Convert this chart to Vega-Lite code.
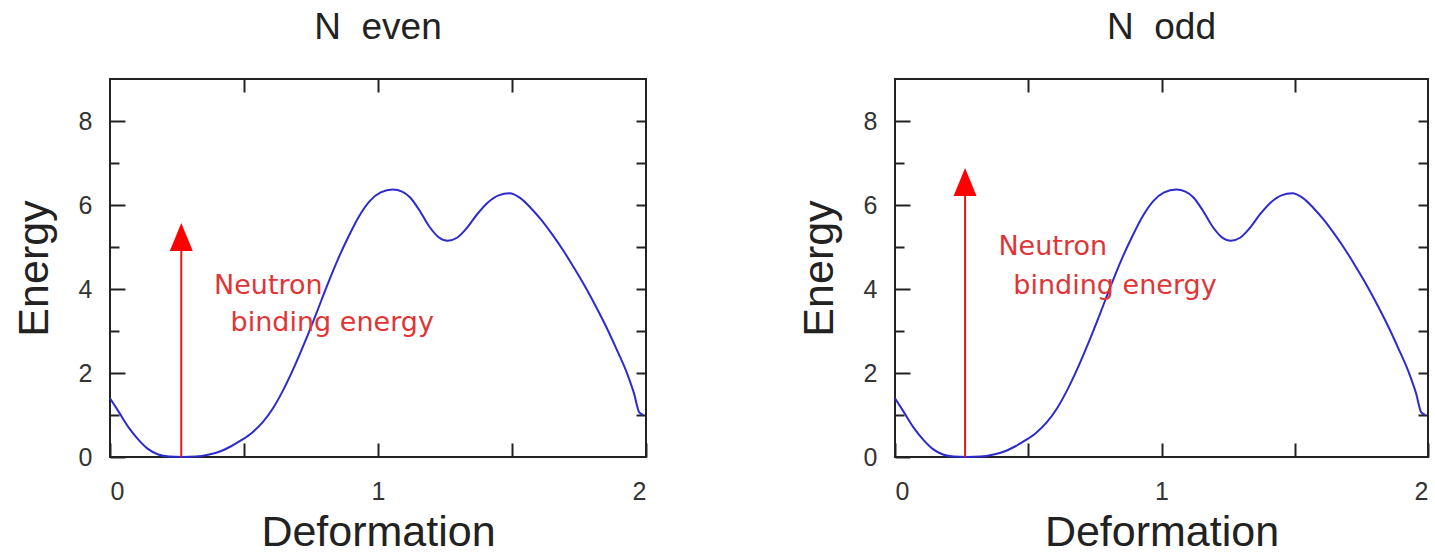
{
  "$schema": "https://vega.github.io/schema/vega-lite/v6.json",
  "padding": {"left": 12, "top": 8, "right": 0, "bottom": 0},
  "autosize": {"type": "pad"},
  "background": "white",
  "config": {
    "view": {"stroke": "#222222", "strokeWidth": 2},
    "font": "Liberation Sans",
    "axis": {
      "grid": false,
      "domain": false,
      "tickColor": "#222222",
      "tickWidth": 2,
      "labelColor": "#333333",
      "labelFont": "Liberation Sans",
      "labelFontSize": 25,
      "titleFont": "Liberation Sans",
      "titleFontSize": 43,
      "titleFontWeight": "normal",
      "titleColor": "#222222"
    },
    "title": {"font": "Liberation Sans", "fontSize": 37, "fontWeight": "normal", "color": "#222222", "offset": 31},
    "concat": {"spacing": 148}
  },
  "datasets": {
    "curve": [
      {"deformation": 0.00, "energy": 1.40},
      {"deformation": 0.035, "energy": 1.05},
      {"deformation": 0.07, "energy": 0.70},
      {"deformation": 0.105, "energy": 0.42},
      {"deformation": 0.14, "energy": 0.20},
      {"deformation": 0.18, "energy": 0.06},
      {"deformation": 0.22, "energy": 0.01},
      {"deformation": 0.27, "energy": 0.00},
      {"deformation": 0.32, "energy": 0.01},
      {"deformation": 0.37, "energy": 0.06},
      {"deformation": 0.41, "energy": 0.13},
      {"deformation": 0.45, "energy": 0.25},
      {"deformation": 0.49, "energy": 0.40},
      {"deformation": 0.53, "energy": 0.58},
      {"deformation": 0.57, "energy": 0.83},
      {"deformation": 0.61, "energy": 1.18},
      {"deformation": 0.65, "energy": 1.64},
      {"deformation": 0.69, "energy": 2.18},
      {"deformation": 0.73, "energy": 2.78},
      {"deformation": 0.77, "energy": 3.42},
      {"deformation": 0.81, "energy": 4.08},
      {"deformation": 0.85, "energy": 4.70},
      {"deformation": 0.89, "energy": 5.25},
      {"deformation": 0.93, "energy": 5.74},
      {"deformation": 0.97, "energy": 6.10},
      {"deformation": 1.01, "energy": 6.30},
      {"deformation": 1.055, "energy": 6.37},
      {"deformation": 1.09, "energy": 6.32},
      {"deformation": 1.12, "energy": 6.18},
      {"deformation": 1.155, "energy": 5.87},
      {"deformation": 1.19, "energy": 5.50},
      {"deformation": 1.225, "energy": 5.24},
      {"deformation": 1.26, "energy": 5.15},
      {"deformation": 1.295, "energy": 5.22},
      {"deformation": 1.33, "energy": 5.44},
      {"deformation": 1.37, "energy": 5.78},
      {"deformation": 1.41, "energy": 6.06},
      {"deformation": 1.45, "energy": 6.23},
      {"deformation": 1.49, "energy": 6.28},
      {"deformation": 1.53, "energy": 6.17},
      {"deformation": 1.57, "energy": 5.93},
      {"deformation": 1.61, "energy": 5.64},
      {"deformation": 1.65, "energy": 5.30},
      {"deformation": 1.69, "energy": 4.93},
      {"deformation": 1.73, "energy": 4.52},
      {"deformation": 1.77, "energy": 4.09},
      {"deformation": 1.81, "energy": 3.62},
      {"deformation": 1.85, "energy": 3.12},
      {"deformation": 1.89, "energy": 2.57},
      {"deformation": 1.93, "energy": 1.98},
      {"deformation": 1.955, "energy": 1.52},
      {"deformation": 1.975, "energy": 1.06},
      {"deformation": 1.99, "energy": 1.00}
    ],
    "arrows": [
      {"panel": "even", "x": 0.266, "base": 0, "top": 4.92, "head": 5.24},
      {"panel": "odd", "x": 0.263, "base": 0, "top": 6.22, "head": 6.55}
    ],
    "labels": [
      {"panel": "even", "x": 0.388, "y": 3.87, "text": "Neutron"},
      {"panel": "even", "x": 0.45, "y": 2.99, "text": "binding  energy"},
      {"panel": "odd", "x": 0.388, "y": 4.80, "text": "Neutron"},
      {"panel": "odd", "x": 0.444, "y": 3.87, "text": "binding  energy"}
    ]
  },
  "hconcat": [
    {
      "title": "N\u00a0 even",
      "width": 536,
      "height": 378,
      "layer": [
        {
          "data": {"name": "curve"},
          "mark": {"type": "line", "color": "#2b2bcf", "strokeWidth": 2, "interpolate": "monotone"},
          "encoding": {
            "x": {"field": "deformation", "type": "quantitative", "scale": {"domain": [0, 2], "nice": false, "zero": false},
              "axis": {"orient": "bottom", "title": "Deformation", "values": [0, 0.5, 1, 1.5, 2], "labelExpr": "datum.value % 1 === 0 ? format(datum.value, 'd') : ''", "tickSize": -14, "labelPadding": 36, "titlePadding": 7}},
            "y": {"field": "energy", "type": "quantitative", "scale": {"domain": [0, 9], "nice": false, "zero": false},
              "axis": {"orient": "left", "title": "Energy", "values": [0, 1, 2, 3, 4, 5, 6, 7, 8], "labelExpr": "datum.value % 2 === 0 ? format(datum.value, 'd') : ''", "tickSize": {"condition": {"test": "datum.value % 2 === 0", "value": -15}, "value": -9}, "labelPadding": 33, "titlePadding": 22}}
          }
        },
        {
          "data": {"name": "arrows"},
          "transform": [{"filter": "datum.panel === 'even'"}],
          "mark": {"type": "rule", "color": "#dd1a1a", "strokeWidth": 2},
          "encoding": {
            "x": {"field": "x", "type": "quantitative", "scale": {"domain": [0, 2], "nice": false, "zero": false}, "axis": {"orient": "top", "title": null, "labels": false, "values": [0.5, 1, 1.5], "tickSize": -13}},
            "y": {"field": "base", "type": "quantitative", "scale": {"domain": [0, 9], "nice": false, "zero": false}, "axis": {"orient": "right", "title": null, "labels": false, "values": [1, 2, 3, 4, 5, 6, 7, 8], "tickSize": -10}},
            "y2": {"field": "top"}
          }
        },
        {
          "data": {"name": "arrows"},
          "transform": [{"filter": "datum.panel === 'even'"}],
          "mark": {"type": "point", "shape": "M0,-1L0.82,1L-0.82,1Z", "size": 784, "filled": true, "color": "#ff0000", "opacity": 1, "strokeWidth": 0},
          "encoding": {
            "x": {"field": "x", "type": "quantitative", "scale": {"domain": [0, 2], "nice": false, "zero": false}, "axis": null},
            "y": {"field": "head", "type": "quantitative", "scale": {"domain": [0, 9], "nice": false, "zero": false}, "axis": null}
          }
        },
        {
          "data": {"name": "labels"},
          "transform": [{"filter": "datum.panel === 'even'"}],
          "mark": {"type": "text", "align": "left", "baseline": "alphabetic", "font": "DejaVu Sans", "fontSize": 27, "color": "#e03535"},
          "encoding": {
            "x": {"field": "x", "type": "quantitative", "scale": {"domain": [0, 2], "nice": false, "zero": false}, "axis": null},
            "y": {"field": "y", "type": "quantitative", "scale": {"domain": [0, 9], "nice": false, "zero": false}, "axis": null},
            "text": {"field": "text"}
          }
        }
      ],
      "resolve": {"axis": {"x": "independent", "y": "independent"}}
    },
    {
      "title": "N\u00a0 odd",
      "width": 533,
      "height": 378,
      "layer": [
        {
          "data": {"name": "curve"},
          "mark": {"type": "line", "color": "#2b2bcf", "strokeWidth": 2, "interpolate": "monotone"},
          "encoding": {
            "x": {"field": "deformation", "type": "quantitative", "scale": {"domain": [0, 2], "nice": false, "zero": false},
              "axis": {"orient": "bottom", "title": "Deformation", "values": [0, 0.5, 1, 1.5, 2], "labelExpr": "datum.value % 1 === 0 ? format(datum.value, 'd') : ''", "tickSize": -14, "labelPadding": 36, "titlePadding": 7}},
            "y": {"field": "energy", "type": "quantitative", "scale": {"domain": [0, 9], "nice": false, "zero": false},
              "axis": {"orient": "left", "title": "Energy", "values": [0, 1, 2, 3, 4, 5, 6, 7, 8], "labelExpr": "datum.value % 2 === 0 ? format(datum.value, 'd') : ''", "tickSize": {"condition": {"test": "datum.value % 2 === 0", "value": -15}, "value": -9}, "labelPadding": 33, "titlePadding": 22}}
          }
        },
        {
          "data": {"name": "arrows"},
          "transform": [{"filter": "datum.panel === 'odd'"}],
          "mark": {"type": "rule", "color": "#dd1a1a", "strokeWidth": 2},
          "encoding": {
            "x": {"field": "x", "type": "quantitative", "scale": {"domain": [0, 2], "nice": false, "zero": false}, "axis": {"orient": "top", "title": null, "labels": false, "values": [0.5, 1, 1.5], "tickSize": -13}},
            "y": {"field": "base", "type": "quantitative", "scale": {"domain": [0, 9], "nice": false, "zero": false}, "axis": {"orient": "right", "title": null, "labels": false, "values": [1, 2, 3, 4, 5, 6, 7, 8], "tickSize": -10}},
            "y2": {"field": "top"}
          }
        },
        {
          "data": {"name": "arrows"},
          "transform": [{"filter": "datum.panel === 'odd'"}],
          "mark": {"type": "point", "shape": "M0,-1L0.82,1L-0.82,1Z", "size": 784, "filled": true, "color": "#ff0000", "opacity": 1, "strokeWidth": 0},
          "encoding": {
            "x": {"field": "x", "type": "quantitative", "scale": {"domain": [0, 2], "nice": false, "zero": false}, "axis": null},
            "y": {"field": "head", "type": "quantitative", "scale": {"domain": [0, 9], "nice": false, "zero": false}, "axis": null}
          }
        },
        {
          "data": {"name": "labels"},
          "transform": [{"filter": "datum.panel === 'odd'"}],
          "mark": {"type": "text", "align": "left", "baseline": "alphabetic", "font": "DejaVu Sans", "fontSize": 27, "color": "#e03535"},
          "encoding": {
            "x": {"field": "x", "type": "quantitative", "scale": {"domain": [0, 2], "nice": false, "zero": false}, "axis": null},
            "y": {"field": "y", "type": "quantitative", "scale": {"domain": [0, 9], "nice": false, "zero": false}, "axis": null},
            "text": {"field": "text"}
          }
        }
      ],
      "resolve": {"axis": {"x": "independent", "y": "independent"}}
    }
  ]
}
